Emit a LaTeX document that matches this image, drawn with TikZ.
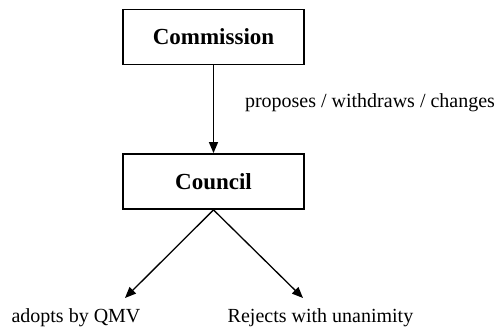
\documentclass[tikz,border=0pt]{standalone}
\usepackage{fontspec}
\setmainfont{Liberation Serif}
\usetikzlibrary{positioning,arrows.meta}

\tikzset{
  body/.style={draw, line width=1.8pt, minimum width=181pt, minimum height=55pt,
    inner sep=0pt, font=\fontsize{23}{25}\selectfont\bfseries},
  flow/.style={line width=1.3pt, -{Triangle[width=9pt,length=11pt]}},
  note/.style={font=\fontsize{20}{22}\selectfont, inner sep=0pt}
}

\begin{document}
\begin{tikzpicture}[x=1pt,y=-1pt]
\useasboundingbox (0,0) rectangle (497,329);

% the two bodies
\node[body] (commission) at (213.5,37) {Commission};
\node[body] (council) at (213.5,181.5) {Council};

% outcomes
\coordinate (adoptend) at (125,298);
\coordinate (rejectend) at (303,298);
\node[note] (adopt) at (76,318) {adopts by QMV};
\node[note] (reject) at (320.5,318) {Rejects with unanimity};
\node[note] (proposes) at (370,103) {proposes / withdraws / changes};

\draw[flow] (commission) -- (council);
\draw[flow] (council.south) -- (adoptend);
\draw[flow] (council.south) -- (rejectend);
\end{tikzpicture}
\end{document}
